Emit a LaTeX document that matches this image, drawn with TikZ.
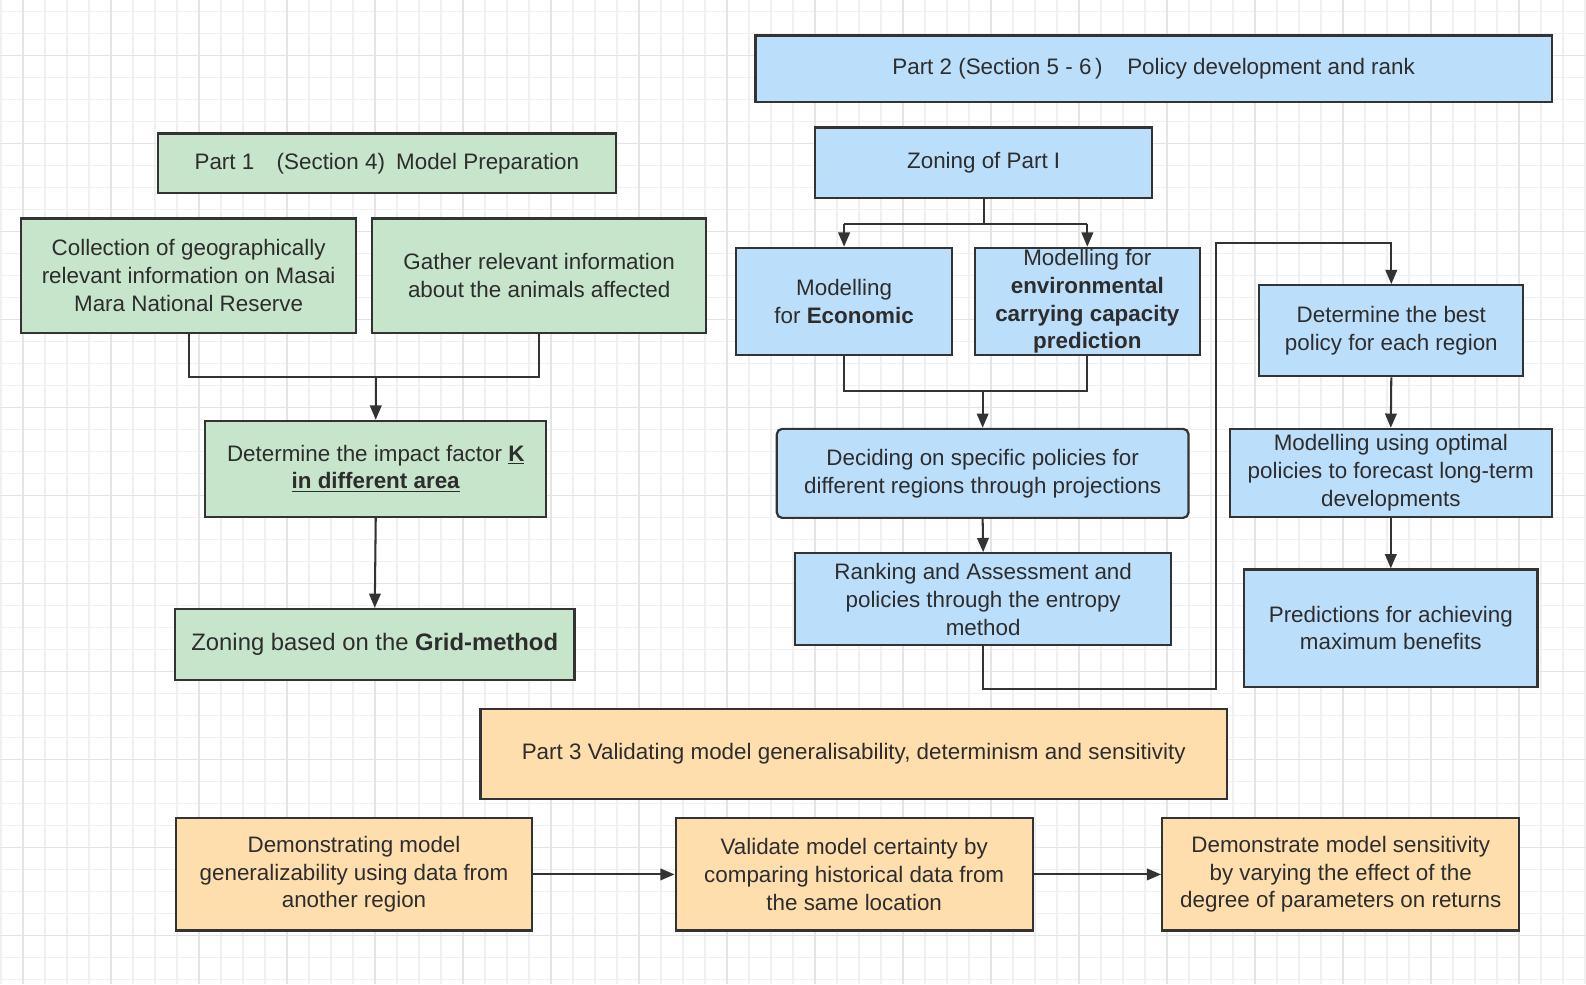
\documentclass[tikz,border=0pt]{standalone}
\usepackage{fontspec}
\setmainfont{Liberation Sans}
\usetikzlibrary{arrows.meta}
\definecolor{gfill}{RGB}{199,229,202}
\definecolor{bfill}{RGB}{187,222,250}
\definecolor{ofill}{RGB}{255,222,173}
\definecolor{edge}{RGB}{51,51,51}
\definecolor{txt}{RGB}{45,45,45}
\definecolor{gridminor}{RGB}{240,240,240}
\definecolor{gridmajor}{RGB}{228,228,228}
\newcommand\mkbox[7]{\node[#1, minimum width={(#5-#3)*0.02cm}, minimum height={(#6-#4)*0.02cm}] (#2) at ({(#3+#5)/2},{(#4+#6)/2}) {#7};}
\tikzset{
  basebox/.style={draw=edge, line width=1.25pt, inner sep=0pt, align=center, text=txt,
    font=\fontsize{12.6}{15.6}\selectfont},
  gbox/.style={basebox, fill=gfill},
  bbox/.style={basebox, fill=bfill},
  obox/.style={basebox, fill=ofill},
  conn/.style={draw=edge, line width=1.15pt},
  arr/.style={conn, -{Triangle[length=8pt,width=6.5pt]}},
}
\begin{document}
\begin{tikzpicture}[x=0.02cm,y=-0.02cm]
\useasboundingbox (0,0) rectangle (1568,973);
\fill[white] (0,0) rectangle (1568,973);
% grid
\foreach \i in {0,...,72} {\draw[gridminor, line width=0.6pt] ({1+21.75*\i},0) -- ({1+21.75*\i},973);}
\foreach \i in {0,...,45} {\draw[gridminor, line width=0.6pt] (0,{11.6+21.75*\i}) -- (1568,{11.6+21.75*\i});}
\foreach \i in {0,...,18} {\draw[gridmajor, line width=0.8pt] ({22.75+87*\i},0) -- ({22.75+87*\i},973);}
\foreach \i in {0,...,11} {\draw[gridmajor, line width=0.8pt] (0,{55.1+87*\i}) -- (1568,{55.1+87*\i});}

% Part 1
\mkbox{gbox}{p1}{156}{132}{609}{191}{Part 1\quad(Section 4)\enspace Model Preparation}
\mkbox{gbox}{coll}{21}{216}{352}{329}{Collection of geographically\\relevant information on Masai\\Mara National Reserve}
\mkbox{gbox}{gath}{368}{216}{698}{329}{Gather relevant information\\about the animals affected}
\mkbox{gbox}{detk}{203}{416}{540}{511}{Determine the impact factor \underline{\textbf{K}}\\\underline{\textbf{in different area}}}
\mkbox{gbox}{grid}{173}{602}{568}{672}{\fontsize{13.4}{15.6}\selectfont Zoning based on the \textbf{Grid-method}}

% Part 2
\mkbox{bbox}{p2}{747}{35}{1534}{101}{Part 2 (Section 5 - 6\,)\hspace{1.1em}Policy development and rank}
\mkbox{bbox}{zon}{806}{126}{1139}{196}{Zoning of Part I}
\mkbox{bbox}{econ}{728}{245}{941}{351}{Modelling\\for \textbf{Economic}}
\mkbox{bbox}{env}{964}{245}{1186}{351}{Modelling for\\\textbf{environmental}\\\textbf{carrying capacity}\\\textbf{prediction}}
\mkbox{bbox, rounded corners=3pt}{dec}{768}{424}{1175}{512}{Deciding on specific policies for\\different regions through projections}
\mkbox{bbox}{rank}{786}{547}{1158}{638}{Ranking and Assessment and\\policies through the entropy\\method}
\mkbox{bbox}{best}{1245}{282}{1506}{372}{Determine the best\\policy for each region}
\mkbox{bbox}{opt}{1216}{424}{1534}{511}{Modelling using optimal\\policies to forecast long-term\\developments}
\mkbox{bbox}{pred}{1230}{563}{1520}{679}{Predictions for achieving\\maximum benefits}

% Part 3
\mkbox{obox}{p3}{475}{701}{1213}{790}{Part 3 Validating model generalisability, determinism and sensitivity}
\mkbox{obox}{dem}{174}{809}{526}{920}{Demonstrating model\\generalizability using data from\\another region}
\mkbox{obox}{val}{668}{809}{1021}{920}{Validate model certainty by\\comparing historical data from\\the same location}
\mkbox{obox}{sen}{1149}{809}{1502}{920}{Demonstrate model sensitivity\\by varying the effect of the\\degree of parameters on returns}

% connectors part 1
\coordinate (j1) at (372,373);
\draw[conn] (coll.south) |- (gath.south |- j1) -- (gath.south);
\draw[arr] (detk.north |- j1) -- (detk.north);
\draw[arr] (detk.south) -- (grid.north);

% connectors part 2
\coordinate (j2) at (972.5,221);
\draw[conn] (zon.south) -- (zon.south |- j2);
\draw[conn] (econ.north |- j2) -- (env.north |- j2);
\draw[arr] (econ.north |- j2) -- (econ.north);
\draw[arr] (env.north |- j2) -- (env.north);
\coordinate (j3) at (972.5,387);
\draw[conn] (econ.south) |- (env.south |- j3) -- (env.south);
\draw[arr] (dec.north |- j3) -- (dec.north);
\draw[arr] (dec.south) -- (rank.north);
\coordinate (j4) at (1202,681);
\coordinate (j5) at (1202,240);
\draw[arr] (rank.south) |- (j4) -- (j5) -| (best.north);
\draw[arr] (best.south) -- (opt.north);
\draw[arr] (opt.south) -- (pred.north);

% connectors part 3
\draw[arr] (dem.east) -- (val.west);
\draw[arr] (val.east) -- (sen.west);
\end{tikzpicture}
\end{document}
